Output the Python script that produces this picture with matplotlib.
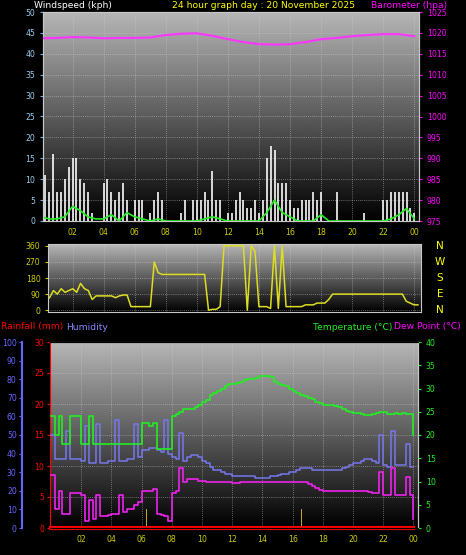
import numpy as np
import matplotlib
matplotlib.use("Agg")
import matplotlib.pyplot as plt

# ---------------- data ----------------
t = np.arange(0, 24.01, 0.25)
gust = [5,11,7,16, 7,7,10,13, 15,15,10,9, 7,2,0,0, 9,10,7,5, 7,9,5,0,
        5,5,5,0, 2,5,7,5, 0,0,0,0, 2,5,0,5, 5,5,7,5, 12,5,5,0,
        2,2,5,7, 5,3,3,5, 2,5,15,18, 17,9,9,9, 5,3,3,5, 5,5,7,5,
        7,0,0,0, 7,0,0,0, 0,0,0,2, 0,0,0,0, 5,5,7,7, 7,7,7,3, 2]
t_avg = np.arange(0, 24.01, 0.5)
avg = [1,0.5,0.5,1, 3.5,2.5,1,0.5, 0.5,1.5,0,2, 1,0.5,0,0.5, 0,0,0,0,
       0,0.5,1,0.5, 0,0,0,0, 0,2,5,2, 1,0,0,0, 1.5,0,0,0, 0,0,0,0,
       0,0.5,1.5,3, 0.5]
t_baro = np.arange(0, 25, 1)
baro = [1018.7,1018.8,1019.0,1018.9,1018.7,1018.8,1018.8,1018.9,1019.5,1019.8,
        1019.9,1019.3,1018.5,1017.8,1017.3,1017.2,1017.3,1017.8,1018.5,1018.8,
        1019.2,1019.5,1019.7,1019.7,1019.2]
t_dir = np.arange(0.5, 24.26, 0.25)
wdir = [70,110,90,120,100,110,120,100,150,120,
        110,60,80,80,80,80,80,70,80,85,85,20,
        20,20,20,20,20,270,210,200,
        200,200,200,200,200,200,200,200,
        200,200,200,0,5,5,20,360,
        360,360,360,360,360,0,360,330,
        20,20,20,10,360,10,360,20,
        20,20,20,20,30,30,30,40,
        40,40,60,90,90,90,90,90,
        90,90,90,90,90,90,90,90,
        90,90,90,90,90,90,50,40,
        30,30]
temp = [24,20,24,18,18,24,24,24,18,18,24,18,
        18,18,18,18,18,18,18,18,18,18,18,18,
        22.5,22.5,22,22.5,17,17,17,17,
        24,24.5,25,25.5,25.5,25.5,26,26.5,
        27,27.5,28.5,29,29.5,30,30.5,31,
        31,31.2,31.5,31.8,32,32,32.3,32.6,
        32.7,32.7,32.5,31.5,31,30.8,30.5,30,
        29.5,29,28.5,28.3,28,27.7,27.2,26.8,
        26.5,26.5,26.5,26.3,26,25.5,25.2,25,
        24.8,24.8,24.5,24.3,24.3,24.5,24.8,25,
        25,24.5,24.5,24.8,24.5,24.7,24.5,24.5,20]
hum = [50,37,37,37,52,37,37,37,36,55,35,35,
       56,35,35,36,36,58,36,36,37,37,56,38,
       42,42,43,43,42,41,58,40,
       38,37,51,36,38,39,39,38,
       36,35,33,31,31,30,29,29,
       28,28,28,28,28,28,27,27,
       27,27,28,28,28.5,29,29,30,
       30,31,32,32,32,31,31,31,
       31,31,31,31,31,32,33,34,
       35,35,36,37,37,36,35,50,
       34,33,52,34,34,34,45,33,33]
dew = [11.5,4,8,3,3,7.5,7.5,7.5,7,1.5,6,2,
       7,2.5,2.5,2.8,3,3,7,3.5,4,4,5,5.5,
       8,8,8,8.3,3,2.8,2.5,1.5,
       7.5,8,13,10,10.5,10.5,10.5,10.2,
       10.2,10,10,10,10,10,9.8,9.8,
       9.6,9.6,9.8,9.8,10,10,10,10,
       10,10,10,10,9.8,9.8,10,10,
       10,10,10,9.8,9.5,9,8.5,8.2,
       8,8,8,8,8,8,8,8,
       8,8,8,8,7.8,7.5,7.5,12,
       7,7,13,7,7,7,11,7,2]
rain = [0, 0]
t_rain = [0, 24]
t_rr = [6.3, 16.6]
rr = [3, 3]
hours = [2,4,6,8,10,12,14,16,18,20,22,24]
hour_labels = ["02","04","06","08","10","12","14","16","18","20","22","00"]

# ---------------- style ----------------
W, H = 466, 555
fig = plt.figure(figsize=(W/100, H/100), dpi=100, facecolor="black")
fs = 5.6
tfs = 6.6
grad = np.linspace(0, 1, 256).reshape(-1, 1)

def bg(ax):
    ax.set_facecolor("black")
    ax.imshow(grad, extent=[0, 1, 0, 1], transform=ax.transAxes, cmap="gray",
              vmin=0.0, vmax=1.4, aspect="auto", zorder=0, origin="lower")
    ax.grid(True, color="#d0d0d0", lw=0.6, ls=(0, (1, 1.5)), alpha=0.6, zorder=1)
    for s in ax.spines.values():
        s.set_color("#c8c8c8")

def px(x0, y0, x1, y1):
    return [x0/W, 1-y1/H, (x1-x0)/W, (y1-y0)/H]

# ---- top panel ----
ax1 = fig.add_axes(px(43, 12, 419, 221))
bg(ax1)
ax1.vlines(t, 0, gust, color="white", lw=1.3, alpha=0.9, zorder=2)
ax1.plot(t_avg, avg, color="#22ee22", lw=1.2, zorder=4)
ax1.set_xlim(0.1, 24.3)
ax1.set_ylim(0, 50)
ax1.set_yticks(range(0, 51, 5))
ax1.set_xticks(hours)
ax1.set_xticklabels(hour_labels)
ax1.tick_params(axis="x", colors="#cccc00", labelsize=fs, length=0, pad=5)
ax1.tick_params(axis="y", colors="#66aaee", labelsize=fs, length=2)
for l in ax1.get_yticklabels():
    l.set_color("#99ccee")
ax1b = ax1.twinx()
ax1b.plot(t_baro, baro, color="#ff33ff", lw=1.5, zorder=5)
ax1b.set_ylim(975, 1025)
ax1b.set_yticks(range(975, 1026, 5))
ax1b.tick_params(axis="y", colors="#ff00ff", labelsize=fs, length=2)
ax1b.set_xlim(0.1, 24.3)
for s in ax1b.spines.values():
    s.set_color("#c8c8c8")
fig.text(34/W, 1-6/H, "Windspeed (kph)", color="white", fontsize=tfs, va="center")
fig.text(172/W, 1-6/H, "24 hour graph day : 20 November 2025", color="yellow", fontsize=tfs, va="center")
fig.text(371/W, 1-6/H, "Barometer (hpa)", color="#ff00ff", fontsize=tfs, va="center")

# ---- middle panel ----
ax2 = fig.add_axes(px(48, 244, 421, 312))
bg(ax2)
ax2.plot(t_dir, wdir, color="#dddd22", lw=1.1, zorder=3)
ax2.set_xlim(0.4, 24.45)
ax2.set_ylim(-10, 370)
ax2.set_yticks([0, 90, 180, 270, 360])
ax2.set_xticks(hours)
ax2.tick_params(axis="x", labelbottom=False, length=0)
ax2.tick_params(axis="y", colors="#cccc00", labelsize=fs, length=2)
for i, c in enumerate("NWSEN"):
    fig.text(440/W, 1-(246+16*i)/H, c, color="yellow", fontsize=7.5, ha="center", va="center")

# ---- bottom panel ----
ax3 = fig.add_axes(px(50, 342, 418, 528))
bg(ax3)
ax3.set_xlim(-0.07, 24.3)
ax3.set_ylim(0, 30)
ax3.set_yticks(range(0, 31, 5))
ax3.bar(t_rr, rr, width=0.08, color="#bbaa22", zorder=3)
ax3.plot(t_rain, rain, color="red", lw=3, zorder=6, clip_on=False)
ax3.tick_params(axis="y", colors="red", labelsize=fs, length=2, pad=2)
ax3.spines["left"].set_color("red")
ax3.set_xticks(hours)
ax3.set_xticklabels(hour_labels)
ax3.tick_params(axis="x", colors="#cccc00", labelsize=fs, length=0, pad=5)

axh = ax3.twinx()
axh.yaxis.set_label_position("left")
axh.yaxis.tick_left()
axh.spines["left"].set_position(("outward", 20))
axh.spines["left"].set_color("#6666ff")
axh.spines["left"].set_linewidth(1.5)
axh.spines["right"].set_visible(False)
axh.plot(t, hum, color="#7777ee", lw=1.1, drawstyle="steps-post", zorder=4)
axh.set_ylim(0, 100)
axh.set_yticks(range(0, 101, 10))
axh.tick_params(axis="y", colors="#6666ff", labelsize=fs, length=2, pad=2)

axt = ax3.twinx()
axt.spines["left"].set_visible(False)
axt.spines["right"].set_color("#c8c8c8")
axt.plot(t, temp, color="#22ee22", lw=1.2, drawstyle="steps-post", zorder=4)
axt.plot(t, dew, color="#ee22ee", lw=1.2, drawstyle="steps-post", zorder=4)
axt.set_ylim(0, 40)
axt.set_yticks(range(0, 41, 5))
axt.tick_params(axis="y", colors="#22ee22", labelsize=fs, length=2)
axt.set_xlim(-0.07, 24.3)
axh.set_xlim(-0.07, 24.3)

fig.text(1/W, 1-327/H, "Rainfall (mm)", color="red", fontsize=tfs, va="center")
fig.text(66/W, 1-327/H, "Humidity", color="#8888ff", fontsize=tfs, va="center")
fig.text(313/W, 1-327/H, "Temperature (°C)", color="#22ee22", fontsize=tfs, va="center")
fig.text(394/W, 1-327/H, "Dew Point (°C)", color="#ff00ff", fontsize=tfs, va="center")

fig.savefig("out.png", dpi=100, facecolor="black")
